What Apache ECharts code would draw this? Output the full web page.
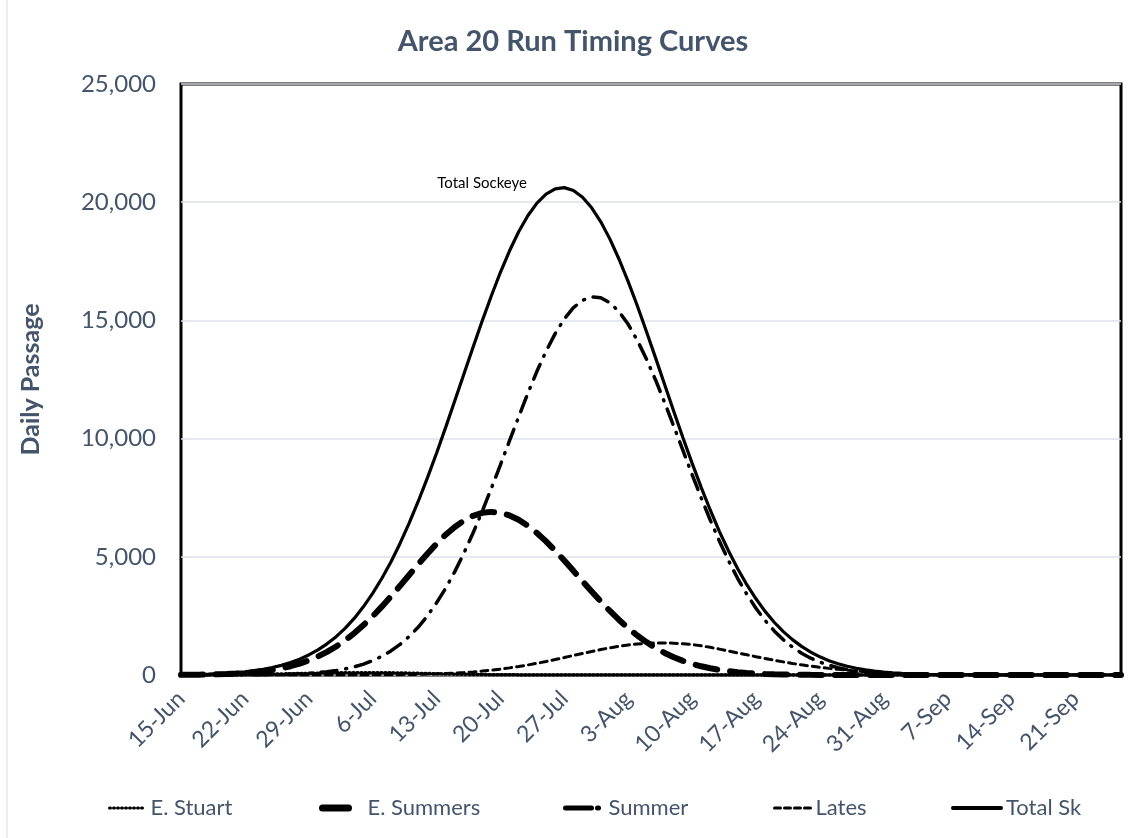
<!DOCTYPE html>
<html>
<head>
<meta charset="utf-8">
<title>Area 20 Run Timing Curves</title>
<script src="https://cdn.jsdelivr.net/npm/echarts@6/dist/echarts.min.js"></script>
<style>
  html, body { margin: 0; padding: 0; background: #fff; }
  #chart { width: 1146px; height: 838px; }
</style>
</head>
<body>
<div id="chart"></div>
<script>
// 日期 (15-Jun .. 26-Sep)
var days = [
  '15-Jun','16-Jun','17-Jun','18-Jun','19-Jun','20-Jun','21-Jun','22-Jun','23-Jun','24-Jun','25-Jun','26-Jun','27-Jun','28-Jun','29-Jun','30-Jun',
  '1-Jul','2-Jul','3-Jul','4-Jul','5-Jul','6-Jul','7-Jul','8-Jul','9-Jul','10-Jul','11-Jul','12-Jul','13-Jul','14-Jul','15-Jul','16-Jul',
  '17-Jul','18-Jul','19-Jul','20-Jul','21-Jul','22-Jul','23-Jul','24-Jul','25-Jul','26-Jul','27-Jul','28-Jul','29-Jul','30-Jul','31-Jul',
  '1-Aug','2-Aug','3-Aug','4-Aug','5-Aug','6-Aug','7-Aug','8-Aug','9-Aug','10-Aug','11-Aug','12-Aug','13-Aug','14-Aug','15-Aug','16-Aug',
  '17-Aug','18-Aug','19-Aug','20-Aug','21-Aug','22-Aug','23-Aug','24-Aug','25-Aug','26-Aug','27-Aug','28-Aug','29-Aug','30-Aug','31-Aug',
  '1-Sep','2-Sep','3-Sep','4-Sep','5-Sep','6-Sep','7-Sep','8-Sep','9-Sep','10-Sep','11-Sep','12-Sep','13-Sep','14-Sep','15-Sep','16-Sep',
  '17-Sep','18-Sep','19-Sep','20-Sep','21-Sep','22-Sep','23-Sep','24-Sep','25-Sep','26-Sep'
]

var eStuart = [
  2,2,4,5,8,10,14,18,23,29,36,44,52,61,69,78,85,92,96,99,100,99,96,92,85,78,69,61,52,44,36,29,23,18,14,10,8,5,4,2,2,1,
  0,0,0,0,0,0,0,0,0,0,0,0,0,0,0,0,0,0,0,0,0,0,0,0,0,0,0,0,0,0,0,0,0,0,0,0,0,0,0,0,0,0,0,0,0,0,0,0,0,0,0,0,0,0,0,0,0,0
]

var eSummers = [
  6,10,14,21,30,43,61,84,117,159,213,284,371,481,615,780,976,1205,1472,1774,2115,2485,2890,3322,3773,4232,4688,5131,5552,5934,
  6264,6534,6735,6859,6900,6862,6748,6564,6316,6008,5651,5261,4840,4405,3965,3529,3108,2708,2329,1985,1671,1392,1145,934,752,
  598,472,368,284,216,163,121,90,66,47,34,24,17,12,8,5,4,2,2,1,
  0,0,0,0,0,0,0,0,0,0,0,0,0,0,0,0,0,0,0,0,0,0,0,0,0,0,0,0,0
]

var summer = [
  0,0,0,0,1,1,2,4,7,11,16,24,35,50,70,99,137,188,259,347,462,606,790,1019,1296,1629,2029,2502,3051,3669,4373,5157,6005,6918,
  7891,8891,9910,10918,11910,12845,13694,14442,15064,15538,15851,15992,15957,15746,15368,14834,14154,13365,12480,11517,10518,
  9501,8480,7493,6546,5658,4835,4080,3414,2822,2306,1864,1490,1178,922,712,544,413,309,228,167,120,86,61,43,29,20,14,9,6,4,3,2,1,1,
  0,0,0,0,0,0,0,0,0,0,0,0,0,0,0
]

var lates = [
  0,0,0,0,0,0,0,0,0,0,0,0,0,0,0,1,1,2,2,3,4,6,8,11,15,21,28,37,49,64,82,105,132,165,204,249,301,359,424,495,573,654,738,825,911,
  996,1076,1150,1216,1271,1314,1343,1358,1358,1346,1322,1287,1235,1170,1095,1015,935,855,775,700,625,555,490,430,375,325,280,238,
  200,167,137,111,89,71,56,44,34,26,20,15,11,8,6,5,3,2,2,1,1,
  0,0,0,0,0,0,0,0,0,0
]

var totalSk = [
  15,21,29,41,57,77,103,138,184,241,315,408,526,670,848,1061,1319,1622,1984,2405,2893,3450,4081,4780,5565,6425,7351,8341,9380,
  10475,11599,12735,13867,14972,16034,17036,17946,18752,19426,19960,20344,20564,20616,20498,20212,19764,19170,18438,17587,16642,
  15620,14533,13415,12279,11147,10038,8961,7939,6970,6066,5244,4495,3819,3223,2691,2231,1833,1495,1210,969,769,606,476,369,285,
  217,164,124,91,67,49,35,26,18,13,9,6,4,3,2,1,1,1,
  0,0,0,0,0,0,0,0,0,0,0
]

var yTicks = [0, 5000, 10000, 15000, 20000, 25000]

var txt = '#44546A'
var font = 'Lato'

var myChart = echarts.init(document.getElementById('chart'))

// 图例: 每个系列单独放一个
function legendAt(name, left, w, lineStyle, textPad) {
  return {
    data: [name],
    left: left,
    top: 792,
    itemWidth: w,
    itemHeight: 14,
    itemGap: 4,
    itemStyle: { opacity: 0 },
    lineStyle: lineStyle,
    textStyle: { color: txt, fontFamily: font, fontSize: 22, padding: [0, 0, 0, textPad] }
  }
}

function lineSeries(name, data, width, type) {
  return {
    name: name,
    type: 'line',
    data: data,
    symbol: 'none',
    showSymbol: false,
    smooth: false,
    animation: false,
    lineStyle: { color: '#000', width: width, type: type, cap: 'round' },
    itemStyle: { color: '#000' }
  }
}

var totalSeries = lineSeries('Total Sk', totalSk, 3.2, 'solid')
totalSeries.markPoint = {
  symbol: 'circle',
  symbolSize: 0,
  data: [{ coord: [days[33], 20800], value: 'Total Sockeye' }],
  label: {
    show: true,
    position: 'inside',
    formatter: 'Total Sockeye',
    color: '#000',
    fontFamily: font,
    fontSize: 15
  }
}

myChart.setOption({
  backgroundColor: '#fff',
  title: {
    text: 'Area 20 Run Timing Curves',
    left: 'center',
    top: 22,
    textStyle: { color: txt, fontFamily: font, fontSize: 29, fontWeight: 'bold' }
  },
  legend: [
    legendAt('E. Stuart', 103, 34, { type: [1, 3], width: 3, cap: 'round' }, 2),
    legendAt('E. Summers', 314, 26, { type: 'solid', width: 7, cap: 'round' }, 14),
    legendAt('Summer', 558, 38, { type: [26, 6, 1, 20], width: 5, cap: 'round' }, 0),
    legendAt('Lates', 768, 36, { type: [6, 4], width: 3 }, 0),
    legendAt('Total Sk', 946, 48, { type: 'solid', width: 4 }, 0)
  ],
  graphic: [{
    type: 'rect',
    shape: { x: 7, y: -2, width: 1150, height: 845 },
    style: { fill: 'none', stroke: '#d9d9d9', lineWidth: 1 },
    silent: true
  }],
  grid: {
    left: 181,
    top: 84,
    right: 25,
    bottom: 163,
    show: true,
    borderColor: '#000',
    borderWidth: 3,
    backgroundColor: 'transparent'
  },
  xAxis: {
    type: 'category',
    data: days,
    boundaryGap: false,
    axisLine: { show: false },
    axisTick: { show: false },
    splitLine: { show: false },
    axisLabel: {
      interval: 6,
      rotate: 45,
      margin: 20,
      color: txt,
      fontFamily: font,
      fontSize: 23
    }
  },
  yAxis: {
    type: 'value',
    min: yTicks[0],
    max: yTicks[yTicks.length - 1],
    interval: 5000,
    name: 'Daily Passage',
    nameLocation: 'middle',
    nameGap: 138,
    nameMoveOverlap: false,
    nameTextStyle: { color: txt, fontFamily: font, fontSize: 25, fontWeight: 'bold' },
    axisLine: { show: false },
    axisTick: { show: false },
    splitLine: { show: true, lineStyle: { color: '#dde1e8', width: 1.5 } },
    axisLabel: {
      margin: 25,
      color: txt,
      fontFamily: font,
      fontSize: 24,
      formatter: function(v) { return v.toLocaleString('en-US') }
    }
  },
  series: [
    lineSeries('E. Stuart', eStuart, 3.5, [1, 3]),
    lineSeries('E. Summers', eSummers, 6, [22, 13]),
    lineSeries('Summer', summer, 3.5, [16, 9, 1, 9]),
    lineSeries('Lates', lates, 3, [7, 5]),
    totalSeries
  ]
})
</script>
</body>
</html>
